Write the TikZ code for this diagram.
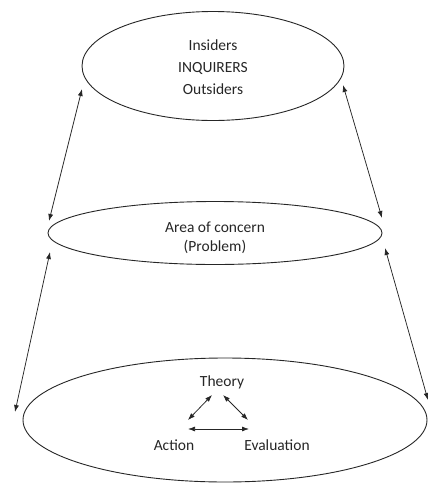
\documentclass[tikz,border=0pt]{standalone}
\usepackage{fontspec}
\setmainfont{Carlito}
\usetikzlibrary{shapes.geometric,arrows.meta}
\begin{document}
\begin{tikzpicture}[x=1pt,y=-1pt,
  oval/.style={draw=black!85, ellipse, inner sep=0pt, line width=0.9pt},
  lbl/.style={font=\fontsize{15.5}{18}\selectfont, inner sep=0pt, anchor=base, text=black!85},
  link/.style={{Latex[length=7pt,width=5pt]}-{Latex[length=7pt,width=5pt]}, line width=0.75pt, draw=black!85}]
\useasboundingbox (0,0) rectangle (428,483);
% ellipses
\node[oval, minimum width=262pt, minimum height=109pt] (top) at (213,66) {};
\node[oval, minimum width=334pt, minimum height=63pt] (mid) at (215,233) {};
\node[oval, minimum width=404pt, minimum height=124pt] (bot) at (225,420) {};
% texts
\node[lbl] (ins) at (213,50) {Insiders};
\node[lbl] (inq) at (213,72) {INQUIRERS};
\node[lbl] (out) at (213,94) {Outsiders};
\node[lbl] (area) at (215,232) {Area of concern};
\node[lbl] (prob) at (215,251) {(Problem)};
\node[lbl] (theo) at (222,386) {Theory};
\node[lbl] (act) at (174,450) {Action};
\node[lbl] (eval) at (277,450) {Evaluation};
% arrow ends
\coordinate (tl) at (82,89);
\coordinate (ml1) at (49,221);
\coordinate (tr) at (343,85);
\coordinate (mr1) at (382,218);
\coordinate (ml2) at (50,252);
\coordinate (bl) at (15,412);
\coordinate (mr2) at (385,248);
\coordinate (br) at (428,400);
\coordinate (ta) at (212,395);
\coordinate (at) at (188,420);
\coordinate (te) at (223,395);
\coordinate (et) at (248,420);
\coordinate (ae) at (188,429);
\coordinate (ea) at (249,429);
\draw[link] (tl) -- (ml1);
\draw[link] (tr) -- (mr1);
\draw[link] (ml2) -- (bl);
\draw[link] (mr2) -- (br);
\draw[link] (ta) -- (at);
\draw[link] (te) -- (et);
\draw[link] (ae) -- (ea);
\end{tikzpicture}
\end{document}
